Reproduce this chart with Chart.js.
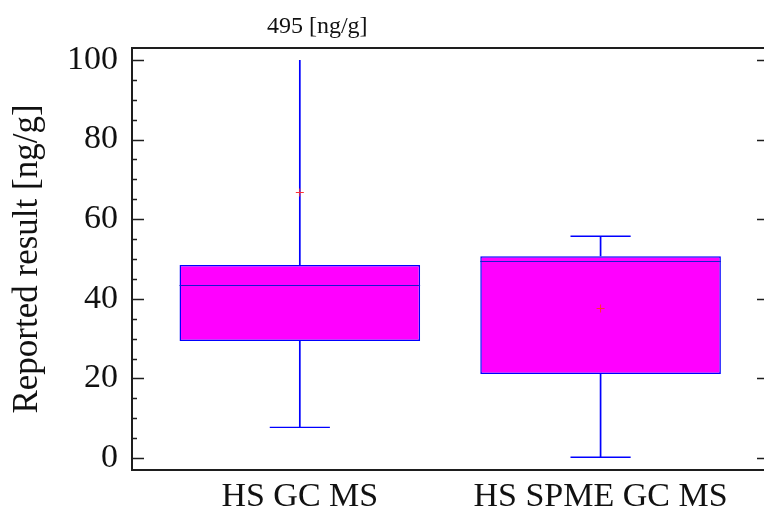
<!DOCTYPE html>
<html>
<head>
<meta charset="utf-8">
<script src="https://cdn.jsdelivr.net/npm/chart.js@4/dist/chart.umd.min.js"></script>
<style>
  html, body { margin: 0; padding: 0; overflow: hidden; background: #fff; }
</style>
</head>
<body>
<canvas id="boxChart" width="772" height="512"></canvas>
<script>
// box plot values
const categories = ["HS GC MS", "HS SPME GC MS"];
const xPos = [1, 2];
const minVals = [7.7, 0.2];
const q1Vals = [29.4, 21.1];
const medians = [43.4, 49.5];
const q3Vals = [48.5, 50.7];
const maxVals = [495, 55.7];
const means = [66.9, 37.6];
const yTickLabels = [0, 20, 40, 60, 80, 100];
const unit = "[ng/g]";

const serif = "'Liberation Serif', 'Times New Roman', serif";
const axisColor = "#1e1e1e";

const boxExtras = {
    id: "boxExtras",
    afterDatasetsDraw(chart) {
        const c = chart.ctx;
        const xs = chart.scales.x, ys = chart.scales.y;
        const top = yTickLabels[yTickLabels.length - 1];
        c.save();
        for (let i = 0; i < categories.length; i++) {
            const xc = xs.getPixelForValue(xPos[i]);
            const capL = xs.getPixelForValue(xPos[i] - 0.1);
            const capR = xs.getPixelForValue(xPos[i] + 0.1);
            const boxL = xs.getPixelForValue(xPos[i] - 0.4);
            const boxR = xs.getPixelForValue(xPos[i] + 0.4);
            const hi = Math.min(maxVals[i], top);

            // whiskers
            c.strokeStyle = "#0000ff";
            c.lineWidth = 1.7;
            c.beginPath();
            c.moveTo(xc, ys.getPixelForValue(q3Vals[i]));
            c.lineTo(xc, ys.getPixelForValue(hi));
            c.moveTo(xc, ys.getPixelForValue(q1Vals[i]));
            c.lineTo(xc, ys.getPixelForValue(minVals[i]));
            c.stroke();

            // caps
            c.lineWidth = 1.4;
            c.beginPath();
            if (maxVals[i] <= top) {
                c.moveTo(capL, ys.getPixelForValue(maxVals[i]));
                c.lineTo(capR, ys.getPixelForValue(maxVals[i]));
            }
            c.moveTo(capL, ys.getPixelForValue(minVals[i]));
            c.lineTo(capR, ys.getPixelForValue(minVals[i]));
            c.stroke();

            // median
            c.strokeStyle = "#1a1ad0";
            c.lineWidth = 1;
            c.beginPath();
            const ym = Math.round(ys.getPixelForValue(medians[i])) + 0.5;
            c.moveTo(boxL, ym);
            c.lineTo(boxR, ym);
            c.stroke();

            // mean
            const ymean = Math.round(ys.getPixelForValue(means[i])) + 0.5;
            c.strokeStyle = "#ff3030";
            c.lineWidth = 1;
            c.beginPath();
            c.moveTo(xc - 4, ymean);
            c.lineTo(xc + 4, ymean);
            c.moveTo(xc, ymean - 4);
            c.lineTo(xc, ymean + 4);
            c.stroke();

            // value beyond the axis
            if (maxVals[i] > top) {
                c.fillStyle = "#111";
                c.font = "24px " + serif;
                c.textAlign = "center";
                c.textBaseline = "middle";
                c.fillText(maxVals[i] + " " + unit, xs.getPixelForValue(xPos[i] + 0.058), chart.chartArea.top - 21);
            }
        }
        c.restore();
    },
    afterDraw(chart) {
        const c = chart.ctx;
        const ys = chart.scales.y;
        const a = chart.chartArea;
        c.save();
        c.strokeStyle = axisColor;
        c.lineWidth = 2;
        c.beginPath();
        c.moveTo(a.left - 1, a.top);
        c.lineTo(a.right, a.top);
        c.lineTo(a.right, a.bottom);
        c.stroke();
        // inward ticks, major every 20, minor every 5
        c.lineWidth = 1.5;
        c.beginPath();
        for (let v = yTickLabels[0]; v <= yTickLabels[yTickLabels.length - 1]; v += 5) {
            const y = Math.round(ys.getPixelForValue(v)) + 0.5;
            const len = v % 20 === 0 ? 12 : 5;
            c.moveTo(a.left, y);
            c.lineTo(a.left + len, y);
            c.moveTo(a.right - len, y);
            c.lineTo(a.right, y);
        }
        c.stroke();
        c.restore();
    }
};

const ctx = document.getElementById("boxChart").getContext("2d");

new Chart(ctx, {
    type: "bar",
    data: {
        datasets: [{
            data: xPos.map((x, i) => ({ x: x, y: [q1Vals[i], q3Vals[i]] })),
            backgroundColor: "#ff00ff",
            borderColor: "#0000ff",
            borderWidth: 1.5,
            borderSkipped: false,
            barPercentage: 0.8,
            categoryPercentage: 1.0
        }]
    },
    options: {
        responsive: false,
        animation: false,
        events: [],
        layout: { padding: { top: 48, right: 3, left: 0, bottom: 0 } },
        plugins: {
            legend: { display: false },
            tooltip: { enabled: false }
        },
        scales: {
            x: {
                type: "linear",
                offset: false,
                min: 0.442,
                max: 2.56,
                grid: { display: false, drawTicks: false, tickLength: 0, offset: false },
                border: { display: true, color: axisColor, width: 2 },
                afterBuildTicks: (scale) => { scale.ticks = xPos.map(v => ({ value: v })); },
                afterFit: (scale) => { scale.height = 42; },
                ticks: {
                    autoSkip: false,
                    maxRotation: 0,
                    padding: 7,
                    color: "#111",
                    font: { family: serif, size: 34 },
                    callback: (v) => categories[xPos.indexOf(v)] || ""
                }
            },
            y: {
                min: -3,
                max: 103,
                grid: { display: false, drawTicks: false, tickLength: 0 },
                border: { display: true, color: axisColor, width: 2 },
                afterBuildTicks: (scale) => { scale.ticks = yTickLabels.map(v => ({ value: v })); },
                afterFit: (scale) => { scale.width = 132; },
                ticks: {
                    padding: 14,
                    color: "#111",
                    font: { family: serif, size: 34 }
                },
                title: {
                    display: true,
                    text: "Reported result " + unit,
                    color: "#111",
                    padding: { top: 7, bottom: 0 },
                    font: { family: serif, size: 35, weight: "normal" }
                }
            }
        }
    },
    plugins: [boxExtras]
});
</script>
</body>
</html>
